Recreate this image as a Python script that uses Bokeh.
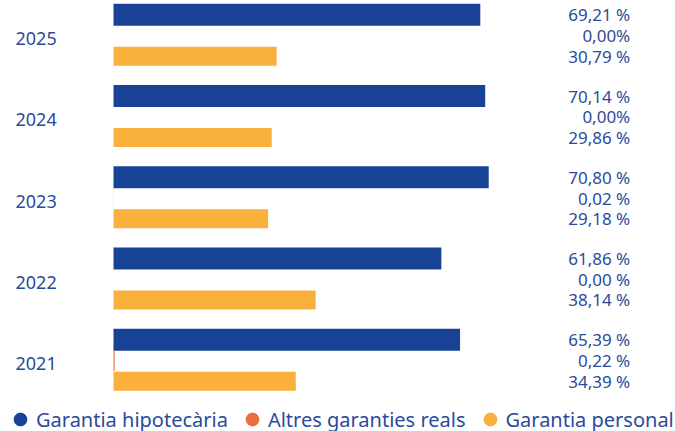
from bokeh.plotting import figure
from bokeh.models import ColumnDataSource, Range1d, Legend, LegendItem
from bokeh.core.properties import value
from bokeh.embed import file_html
from bokeh.resources import INLINE

years = ["2025", "2024", "2023", "2022", "2021"]
hipotecaria = [69.21, 70.14, 70.80, 61.86, 65.39]
altres = [0.00, 0.00, 0.02, 0.00, 0.22]
personal = [30.79, 29.86, 29.18, 38.14, 34.39]
lbl_hipotecaria = ["69,21 %", "70,14 %", "70,80 %", "61,86 %", "65,39 %"]
lbl_altres = ["0,00%", "0,00%", "0,02 %", "0,00 %", "0,22 %"]
lbl_personal = ["30,79 %", "29,86 %", "29,18 %", "38,14 %", "34,39 %"]
series_names = ["Garantia hipotecària", "Altres garanties reals", "Garantia personal"]

BLUE = "#184296"
ORANGE = "#e96f40"
YELLOW = "#f9b03c"
TEXT = "#2a4b9b"
FONT = "Noto Sans"

p = figure(width=675, height=431, output_backend="svg", toolbar_location=None,
           x_range=Range1d(-21.32, 106.04), y_range=Range1d(4.874, -0.431),
           min_border=0, outline_line_color=None)
p.xaxis.visible = False
p.yaxis.visible = False
p.xgrid.grid_line_color = None
p.ygrid.grid_line_color = None

idx = list(range(len(years)))
offsets = [-0.255, 0.0, 0.255]
heights = [0.27, 0.26, 0.235]
colors = [BLUE, ORANGE, YELLOW]
vals = [hipotecaria, altres, personal]
lbls = [lbl_hipotecaria, lbl_altres, lbl_personal]

label_x = 97.5
for s in range(3):
    src = ColumnDataSource(dict(y=[i + offsets[s] for i in idx], v=vals[s],
                                lbl=lbls[s], lx=[label_x] * len(idx)))
    p.hbar(y="y", left=0, right="v", height=heights[s], fill_color=colors[s],
           line_color=None, source=src)
    p.text(x="lx", y="y", text="lbl", source=src, text_align="right",
           text_baseline="middle", text_color=TEXT, text_font=value(FONT),
           text_font_size="17px", y_offset=0)

ysrc = ColumnDataSource(dict(y=idx, t=years, x=[-18.49] * len(idx)))
p.text(x="x", y="y", text="t", source=ysrc, text_align="left", text_baseline="middle",
       text_color=TEXT, text_font=value(FONT), text_font_size="18px", y_offset=3)

items = []
for s in range(3):
    r = p.scatter(x=[float("nan")], y=[float("nan")], marker="circle", size=12,
                  fill_color=colors[s], line_color=colors[s])
    items.append(LegendItem(label=series_names[s], renderers=[r]))
legend = Legend(items=items, orientation="horizontal", location=(4, -4),
                border_line_alpha=0, background_fill_alpha=0, padding=0, margin=0,
                glyph_width=32, glyph_height=32, label_standoff=0, spacing=8,
                label_text_font=FONT, label_text_font_size="20px",
                label_text_color=TEXT)
p.add_layout(legend, "center")

open("out.html", "w").write(file_html(p, INLINE))
